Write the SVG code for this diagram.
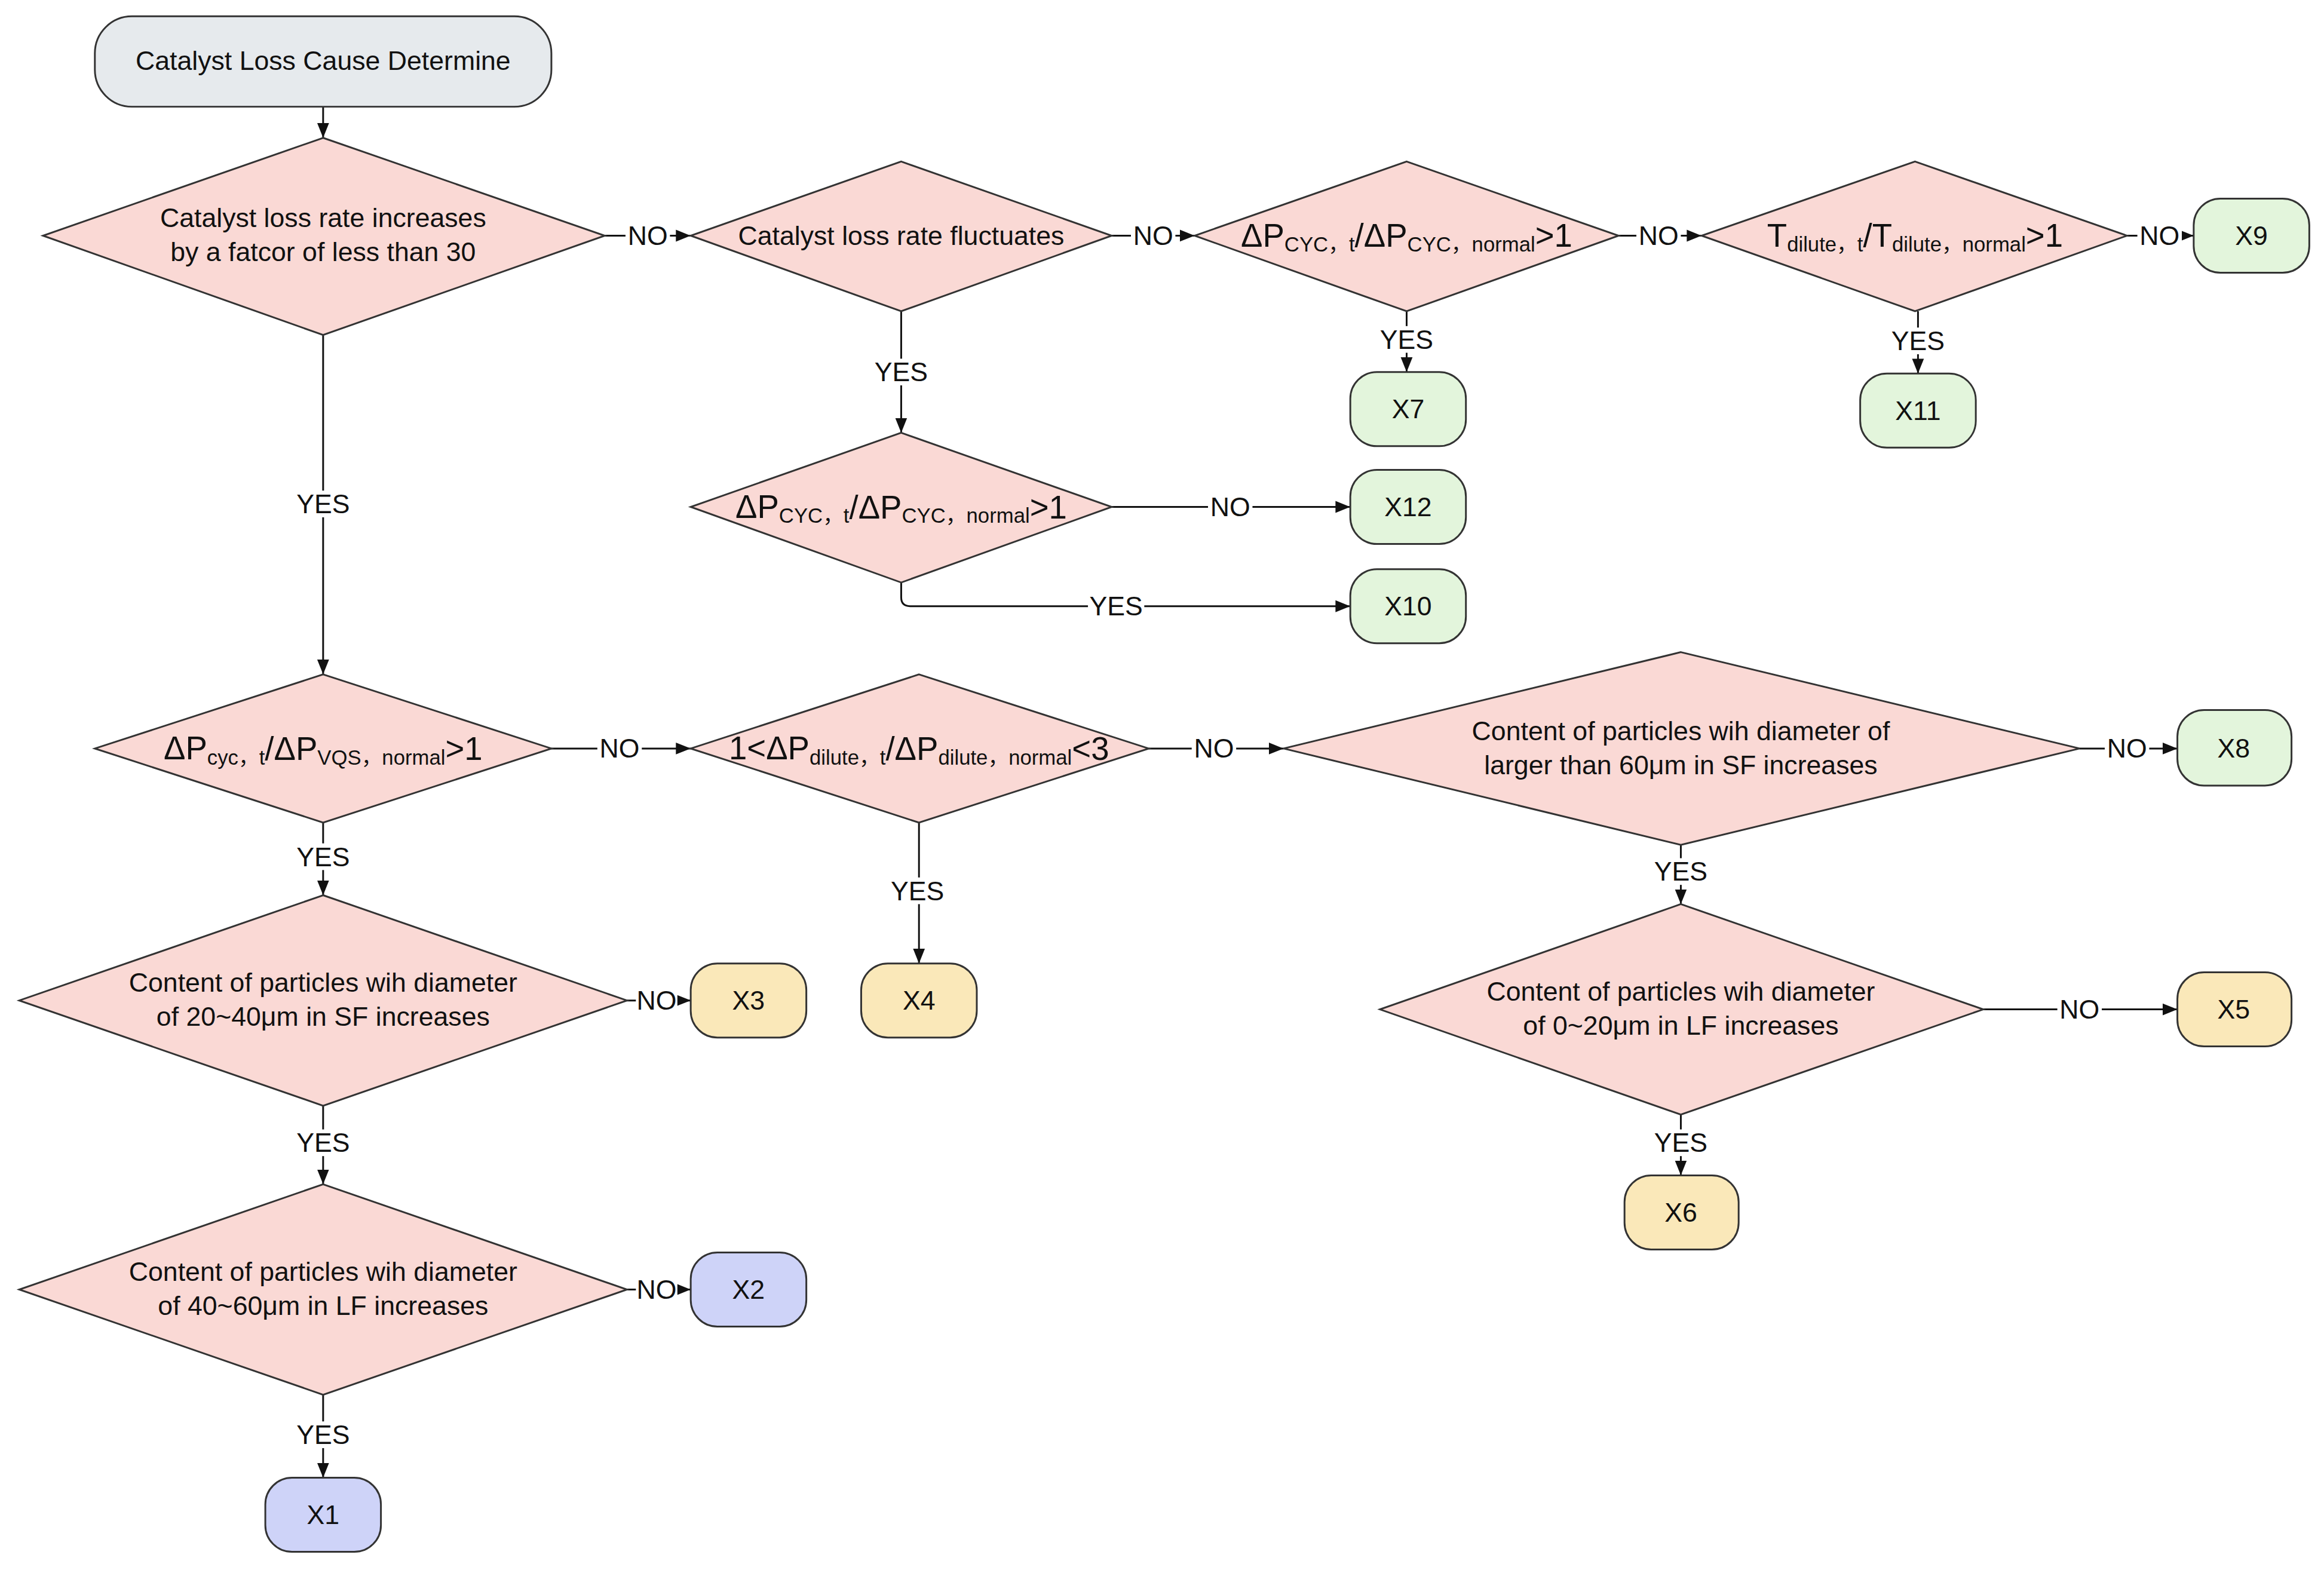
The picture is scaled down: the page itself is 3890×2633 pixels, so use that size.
<svg xmlns="http://www.w3.org/2000/svg" width="3890" height="2633" viewBox="0 0 3890 2633">
<style>
text{font-family:"Liberation Sans","Noto Sans CJK SC",Arial,sans-serif;fill:#111;text-anchor:middle;dominant-baseline:central}
.t{font-size:18px}
.f{font-size:22px}
.s{font-size:14px}
.lb{font-size:18px}
.d{fill:#fad9d5;stroke:#333;stroke-width:1.2}
.g{fill:#e3f5dc;stroke:#333;stroke-width:1.2}
.y{fill:#fae8b9;stroke:#333;stroke-width:1.2}
.b{fill:#ced3f8;stroke:#333;stroke-width:1.2}
.st{fill:#e6eaed;stroke:#333;stroke-width:1.2}
.c path{fill:none;stroke:#111;stroke-width:1.2;marker-end:url(#a)}
.lbg{fill:#fff}
</style>
<defs><marker id="a" markerUnits="userSpaceOnUse" markerWidth="10" markerHeight="10" viewBox="0 0 10 10" refX="10" refY="5" orient="auto"><path d="M0,1 L10,5 L0,9 z" fill="#111"/></marker></defs>
<rect width="3890" height="2633" fill="#fff"/>
<g transform="scale(2.481)">
<g class="c" id="connectors">
<path d="M218,72 V93"/>
<path d="M408,159 H466"/>
<path d="M750,159 H806"/>
<path d="M1092,159 H1148"/>
<path d="M1435,159 H1480"/>
<path d="M608,210 V292"/>
<path d="M949,210 V251"/>
<path d="M1294,210 V252"/>
<path d="M750,342 H911"/>
<path d="M608,393 V403 Q608,409 614,409 H911"/>
<path d="M218,226 V455"/>
<path d="M372,505 H466"/>
<path d="M775,505 H866"/>
<path d="M1403,505 H1469"/>
<path d="M218,555 V604"/>
<path d="M620,555 V650"/>
<path d="M1134,570 V610"/>
<path d="M423,675 H466"/>
<path d="M1338,681 H1469"/>
<path d="M218,746 V799"/>
<path d="M1134,752 V793"/>
<path d="M423,870 H466"/>
<path d="M218,941 V997"/>
</g>
<g id="labels">
<rect class="lbg" x="422" y="150" width="30" height="18"/><text class="lb" x="437" y="159">NO</text>
<rect class="lbg" x="763" y="150" width="30" height="18"/><text class="lb" x="778" y="159">NO</text>
<rect class="lbg" x="1104" y="150" width="30" height="18"/><text class="lb" x="1119" y="159">NO</text>
<rect class="lbg" x="1442" y="150" width="30" height="18"/><text class="lb" x="1457" y="159">NO</text>
<rect class="lbg" x="589" y="242" width="38" height="18"/><text class="lb" x="608" y="251">YES</text>
<rect class="lbg" x="930" y="220" width="38" height="18"/><text class="lb" x="949" y="229">YES</text>
<rect class="lbg" x="1275" y="221" width="38" height="18"/><text class="lb" x="1294" y="230">YES</text>
<rect class="lbg" x="815" y="333" width="30" height="18"/><text class="lb" x="830" y="342">NO</text>
<rect class="lbg" x="734" y="400" width="38" height="18"/><text class="lb" x="753" y="409">YES</text>
<rect class="lbg" x="199" y="331" width="38" height="18"/><text class="lb" x="218" y="340">YES</text>
<rect class="lbg" x="403" y="496" width="30" height="18"/><text class="lb" x="418" y="505">NO</text>
<rect class="lbg" x="804" y="496" width="30" height="18"/><text class="lb" x="819" y="505">NO</text>
<rect class="lbg" x="1420" y="496" width="30" height="18"/><text class="lb" x="1435" y="505">NO</text>
<rect class="lbg" x="199" y="569" width="38" height="18"/><text class="lb" x="218" y="578">YES</text>
<rect class="lbg" x="600" y="592" width="38" height="18"/><text class="lb" x="619" y="601">YES</text>
<rect class="lbg" x="1115" y="579" width="38" height="18"/><text class="lb" x="1134" y="588">YES</text>
<rect class="lbg" x="429" y="666" width="28" height="18"/><text class="lb" x="443" y="675">NO</text>
<rect class="lbg" x="1388" y="672" width="30" height="18"/><text class="lb" x="1403" y="681">NO</text>
<rect class="lbg" x="199" y="762" width="38" height="18"/><text class="lb" x="218" y="771">YES</text>
<rect class="lbg" x="1115" y="762" width="38" height="18"/><text class="lb" x="1134" y="771">YES</text>
<rect class="lbg" x="429" y="861" width="28" height="18"/><text class="lb" x="443" y="870">NO</text>
<rect class="lbg" x="199" y="959" width="38" height="18"/><text class="lb" x="218" y="968">YES</text>
</g>
<g id="start"><rect class="st" x="64" y="11" width="308" height="61" rx="25"/><text class="t" x="218" y="41">Catalyst Loss Cause Determine</text></g>
<g id="d1"><polygon class="d" points="218,93 408,159 218,226 29,159"/><text class="t" x="218" y="147">Catalyst loss rate increases</text><text class="t" x="218" y="170">by a fatcor of less than 30</text></g>
<g id="d2"><polygon class="d" points="608,109 750,159 608,210 466,159"/><text class="t" x="608" y="159">Catalyst loss rate fluctuates</text></g>
<g id="d3"><polygon class="d" points="949,109 1092,159 949,210 806,159"/><text class="f" x="949" y="159">ΔP<tspan class="s" dy="6">CYC，t</tspan><tspan dy="-6">/ΔP</tspan><tspan class="s" dy="6">CYC，normal</tspan><tspan dy="-6">&gt;1</tspan></text></g>
<g id="d4"><polygon class="d" points="1292,109 1435,159 1292,210 1148,159"/><text class="f" x="1292" y="159">T<tspan class="s" dy="6">dilute，t</tspan><tspan dy="-6">/T</tspan><tspan class="s" dy="6">dilute，normal</tspan><tspan dy="-6">&gt;1</tspan></text></g>
<g id="x9"><rect class="g" x="1480" y="134" width="78" height="50" rx="18"/><text class="t" x="1519" y="159">X9</text></g>
<g id="x7"><rect class="g" x="911" y="251" width="78" height="50" rx="18"/><text class="t" x="950" y="276">X7</text></g>
<g id="x11"><rect class="g" x="1255" y="252" width="78" height="50" rx="18"/><text class="t" x="1294" y="277">X11</text></g>
<g id="d5"><polygon class="d" points="608,292 750,342 608,393 466,342"/><text class="f" x="608" y="342">ΔP<tspan class="s" dy="6">CYC，t</tspan><tspan dy="-6">/ΔP</tspan><tspan class="s" dy="6">CYC，normal</tspan><tspan dy="-6">&gt;1</tspan></text></g>
<g id="x12"><rect class="g" x="911" y="317" width="78" height="50" rx="18"/><text class="t" x="950" y="342">X12</text></g>
<g id="x10"><rect class="g" x="911" y="384" width="78" height="50" rx="18"/><text class="t" x="950" y="409">X10</text></g>
<g id="d6"><polygon class="d" points="218,455 372,505 218,555 64,505"/><text class="f" x="218" y="505">ΔP<tspan class="s" dy="6">cyc，t</tspan><tspan dy="-6">/ΔP</tspan><tspan class="s" dy="6">VQS，normal</tspan><tspan dy="-6">&gt;1</tspan></text></g>
<g id="d7"><polygon class="d" points="620,455 775,505 620,555 466,505"/><text class="f" x="620" y="505">1&lt;ΔP<tspan class="s" dy="6">dilute，t</tspan><tspan dy="-6">/ΔP</tspan><tspan class="s" dy="6">dilute，normal</tspan><tspan dy="-6">&lt;3</tspan></text></g>
<g id="d8"><polygon class="d" points="1134,440 1403,505 1134,570 866,505"/><text class="t" x="1134" y="493">Content of particles wih diameter of</text><text class="t" x="1134" y="516">larger than 60μm in SF increases</text></g>
<g id="x8"><rect class="g" x="1469" y="479" width="77" height="51" rx="18"/><text class="t" x="1507" y="505">X8</text></g>
<g id="d9"><polygon class="d" points="218,604 423,675 218,746 13,675"/><text class="t" x="218" y="663">Content of particles wih diameter</text><text class="t" x="218" y="686">of 20~40μm in SF increases</text></g>
<g id="x3"><rect class="y" x="466" y="650" width="78" height="50" rx="18"/><text class="t" x="505" y="675">X3</text></g>
<g id="x4"><rect class="y" x="581" y="650" width="78" height="50" rx="18"/><text class="t" x="620" y="675">X4</text></g>
<g id="d10"><polygon class="d" points="1134,610 1338,681 1134,752 931,681"/><text class="t" x="1134" y="669">Content of particles wih diameter</text><text class="t" x="1134" y="692">of 0~20μm in LF increases</text></g>
<g id="x5"><rect class="y" x="1469" y="656" width="77" height="50" rx="18"/><text class="t" x="1507" y="681">X5</text></g>
<g id="x6"><rect class="y" x="1096" y="793" width="77" height="50" rx="18"/><text class="t" x="1134" y="818">X6</text></g>
<g id="d11"><polygon class="d" points="218,799 423,870 218,941 13,870"/><text class="t" x="218" y="858">Content of particles wih diameter</text><text class="t" x="218" y="881">of 40~60μm in LF increases</text></g>
<g id="x2"><rect class="b" x="466" y="845" width="78" height="50" rx="18"/><text class="t" x="505" y="870">X2</text></g>
<g id="x1"><rect class="b" x="179" y="997" width="78" height="50" rx="18"/><text class="t" x="218" y="1022">X1</text></g>
</g>
</svg>
